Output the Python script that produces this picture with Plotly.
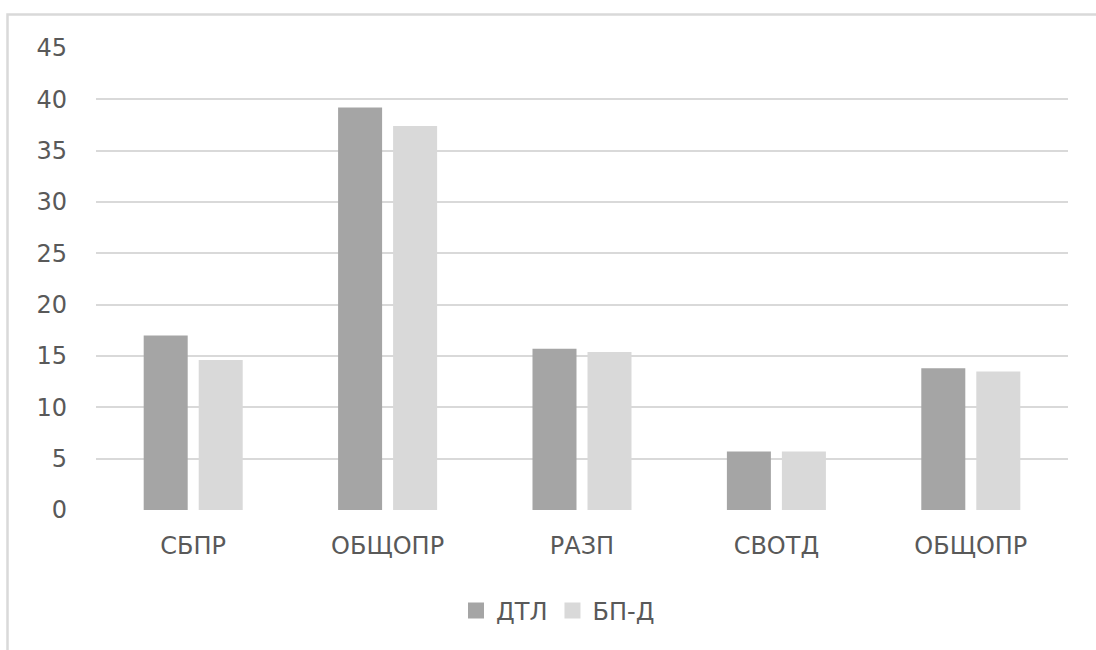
import plotly.graph_objects as go

# Category labels (the last one repeats the second, so positions are numeric)
categories = ["СБПР", "ОБЩОПР", "РАЗП", "СВОТД", "ОБЩОПР"]
series_names = ["ДТЛ", "БП-Д"]
dtl = [17.0, 39.2, 15.7, 5.7, 13.8]
bp_d = [14.6, 37.4, 15.4, 5.7, 13.5]
y_ticks = [0, 5, 10, 15, 20, 25, 30, 35, 40, 45]

positions = list(range(len(categories)))
colors = ["#a5a5a5", "#d9d9d9"]

W, H = 1096, 650
L, R, T, B = 96, 28, 48, 140
plot_w = W - L - R
plot_h = H - T - B

def px_x(px):
    return (px - L) / plot_w

def px_y(py):
    return (H - B - py) / plot_h

font_family = "DejaVu Sans, Open Sans, sans-serif"
text_color = "#595959"
grid_color = "#d9d9d9"

fig = go.Figure()
for name, vals, col in zip(series_names, [dtl, bp_d], colors):
    fig.add_trace(go.Bar(x=positions, y=vals, name=name, showlegend=False,
                         marker=dict(color=col, line=dict(width=0))))
    # legend entry with a large square swatch
    fig.add_trace(go.Scatter(x=[None], y=[None], mode="markers", name=name,
                             marker=dict(symbol="square", size=16, color=col)))

# Outer chart frame
fig.add_shape(type="rect", xref="paper", yref="paper",
              x0=px_x(7.5), x1=px_x(1110), y0=px_y(660), y1=px_y(14.5),
              line=dict(color=grid_color, width=2.5), fillcolor="rgba(0,0,0,0)", layer="below")

fig.update_layout(
    width=W, height=H,
    margin=dict(l=L, r=R, t=T, b=B),
    paper_bgcolor="white", plot_bgcolor="white",
    barmode="group", bargap=0.434, bargroupgap=0.2,
    font=dict(family=font_family, size=24, color=text_color),
    showlegend=True,
    legend=dict(orientation="h", x=px_x(558), xanchor="center", y=px_y(611), yanchor="middle",
                font=dict(size=24, color=text_color), itemwidth=30, traceorder="normal",
                itemsizing="trace", tracegroupgap=0),
    xaxis=dict(range=[-0.5, len(categories) - 0.5], tickmode="array", tickvals=positions,
               ticktext=categories, showgrid=False, zeroline=False, showline=False,
               ticks="", ticklabelstandoff=19, fixedrange=True),
    yaxis=dict(range=[0, 45], tickmode="array", tickvals=y_ticks, showgrid=True,
               gridcolor=grid_color, gridwidth=2, zeroline=False, showline=False,
               ticks="", ticklabelstandoff=28, fixedrange=True),
)

fig.write_html("out.html")
